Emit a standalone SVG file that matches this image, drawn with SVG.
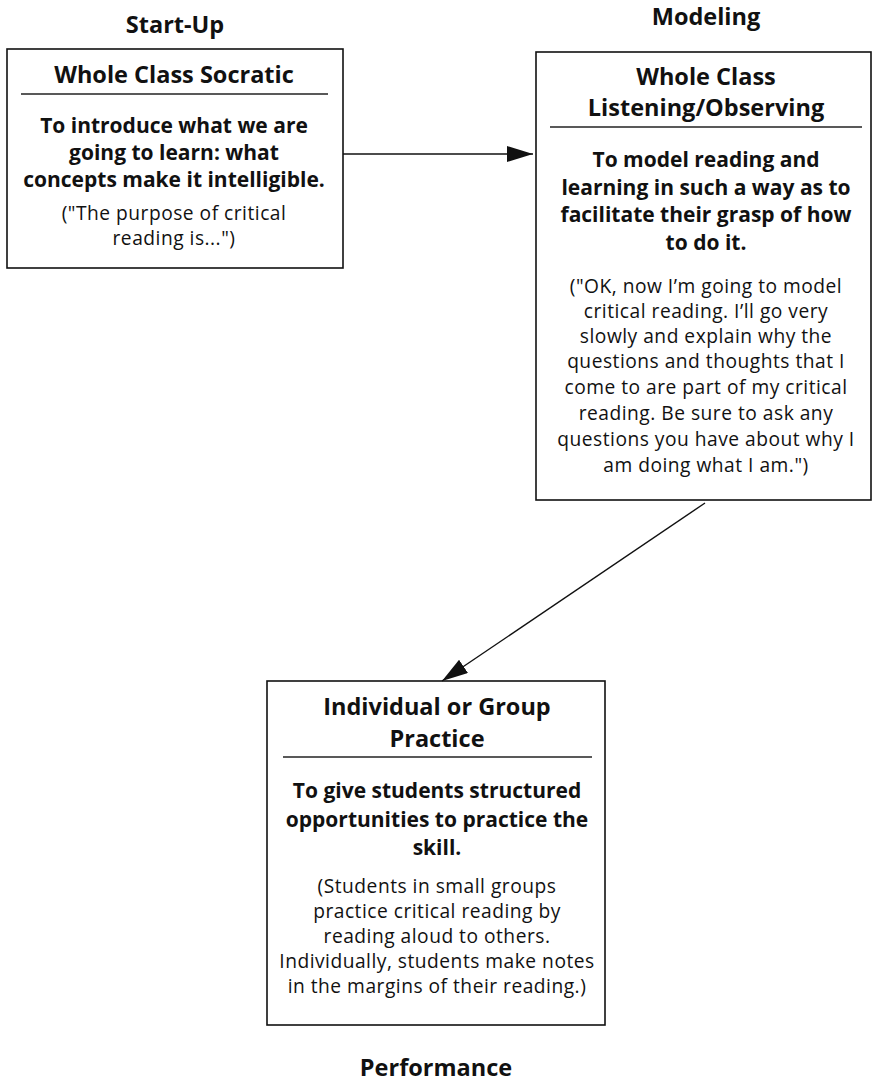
<svg xmlns="http://www.w3.org/2000/svg" width="876" height="1081" viewBox="0 0 876 1081">
<style>
.box{fill:#fff;stroke:#111;stroke-width:1.6}
.rule{stroke:#222;stroke-width:1.3}
text{font-family:"Open Sans","Liberation Sans",sans-serif;fill:#111;text-anchor:middle}
.hdr{font-size:23.5px;font-weight:bold}
.ttl{font-size:23.5px;font-weight:bold}
.bd{font-size:21px;font-weight:bold}
.sm{font-size:19.2px;letter-spacing:0.5px}
.conn{stroke:#111;stroke-width:1.4;fill:none}
</style>
<defs>
<marker id="ah" viewBox="0 0 26 16" refX="26" refY="8" markerWidth="26" markerHeight="16" markerUnits="userSpaceOnUse" orient="auto">
<path d="M0,0 L26,8 L0,16 Z" fill="#111"/>
</marker>
</defs>
<g id="labels">
<text class="hdr" x="175" y="33">Start-Up</text>
<text class="hdr" x="706" y="25">Modeling</text>
<text class="hdr" x="436" y="1076">Performance</text>
</g>
<g id="node-socratic">
<rect class="box" x="7" y="49" width="336" height="219"/>
<text class="ttl" x="174" y="83">Whole Class Socratic</text>
<line class="rule" x1="21" y1="94" x2="328" y2="94"/>
<text class="bd" x="174" y="133">To introduce what we are</text>
<text class="bd" x="174" y="160">going to learn: what</text>
<text class="bd" x="174" y="187">concepts make it intelligible.</text>
<text class="sm" x="174" y="220">("The purpose of critical</text>
<text class="sm" x="174" y="245">reading is...")</text>
</g>
<g id="node-modeling">
<rect class="box" x="536" y="52" width="335" height="448"/>
<text class="ttl" x="706" y="85">Whole Class</text>
<text class="ttl" x="706" y="116">Listening/Observing</text>
<line class="rule" x1="550" y1="127" x2="862" y2="127"/>
<text class="bd" x="706" y="167">To model reading and</text>
<text class="bd" x="706" y="195">learning in such a way as to</text>
<text class="bd" x="706" y="222">facilitate their grasp of how</text>
<text class="bd" x="706" y="250">to do it.</text>
<text class="sm" x="706" y="293">("OK, now I’m going to model</text>
<text class="sm" x="706" y="318">critical reading. I’ll go very</text>
<text class="sm" x="706" y="343">slowly and explain why the</text>
<text class="sm" x="706" y="368">questions and thoughts that I</text>
<text class="sm" x="706" y="394">come to are part of my critical</text>
<text class="sm" x="706" y="420">reading. Be sure to ask any</text>
<text class="sm" x="706" y="446">questions you have about why I</text>
<text class="sm" x="706" y="472">am doing what I am.")</text>
</g>
<g id="node-practice">
<rect class="box" x="267" y="681" width="338" height="344"/>
<text class="ttl" x="437" y="715">Individual or Group</text>
<text class="ttl" x="437" y="747">Practice</text>
<line class="rule" x1="283" y1="757" x2="592" y2="757"/>
<text class="bd" x="437" y="798">To give students structured</text>
<text class="bd" x="437" y="827">opportunities to practice the</text>
<text class="bd" x="437" y="855">skill.</text>
<text class="sm" x="437" y="893">(Students in small groups</text>
<text class="sm" x="437" y="918">practice critical reading by</text>
<text class="sm" x="437" y="943">reading aloud to others.</text>
<text class="sm" x="437" y="968">Individually, students make notes</text>
<text class="sm" x="437" y="993">in the margins of their reading.)</text>
</g>
<g id="connectors">
<line class="conn" x1="343" y1="154" x2="533" y2="154" marker-end="url(#ah)"/>
<line class="conn" x1="705" y1="503" x2="442" y2="681" marker-end="url(#ah)"/>
</g>
</svg>
